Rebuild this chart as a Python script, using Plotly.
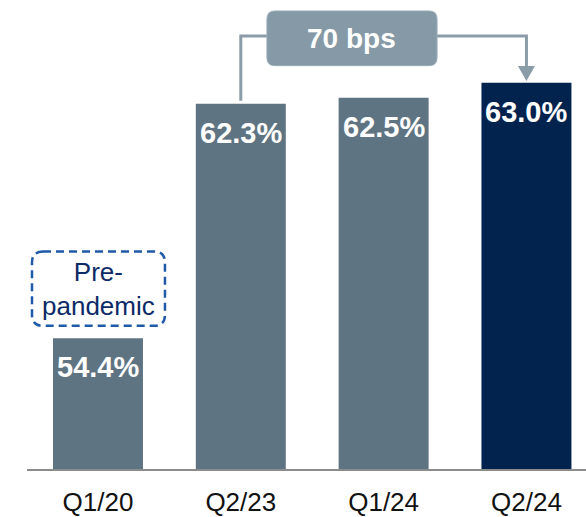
import plotly.graph_objects as go

# Data
quarters = ["Q1/20", "Q2/23", "Q1/24", "Q2/24"]
ratios = [54.4, 62.3, 62.5, 63.0]
bar_colors = ["#5F7482", "#5F7482", "#5F7482", "#03234F"]
change_label = "70 bps"
note_label = "Pre-<br>pandemic"

Y_MIN, Y_MAX = 50.0, 65.79
FONT = "Liberation Sans, Arial, sans-serif"
BRACKET = "#8A9CA8"

fig = go.Figure(
    go.Bar(
        x=quarters,
        y=ratios,
        marker=dict(color=bar_colors, line=dict(width=0)),
        width=0.63,
        textposition="none",
        hoverinfo="skip",
    )
)

# Value labels inside the top of each bar
for q, v in zip(quarters, ratios):
    fig.add_annotation(
        x=q, y=v, text=f"<b>{v:.1f}%</b>", showarrow=False,
        yanchor="middle", yshift=-29,
        font=dict(family=FONT, size=29, color="white"),
    )


def rounded_rect(x0, x1, y0, y1, rx, ry):
    return (
        f"M {x0 + rx},{y1} L {x1 - rx},{y1} Q {x1},{y1} {x1},{y1 - ry} "
        f"L {x1},{y0 + ry} Q {x1},{y0} {x1 - rx},{y0} "
        f"L {x0 + rx},{y0} Q {x0},{y0} {x0},{y0 + ry} "
        f"L {x0},{y1 - ry} Q {x0},{y1} {x0 + rx},{y1} Z"
    )


# Category positions on the x axis
xi = {q: i for i, q in enumerate(quarters)}
px_x = 1 / 142.8   # data units per pixel along x
px_y = 1 / 29.9    # data units per pixel along y

# Change bracket from Q2/23 to Q2/24
box_x0, box_x1 = 1.183, 2.374
box_y0, box_y1 = 63.58, 65.42
mid_y = 64.58
start = ratios[1] + 3 * px_y
end = ratios[3] + 2 * px_y
head_h = 15 * px_y
head_w = 8.5 * px_x
x_from, x_to = xi["Q2/23"], xi["Q2/24"]

fig.add_shape(type="path",
              path=f"M {box_x0},{mid_y} L {x_from},{mid_y} L {x_from},{start}",
              line=dict(color=BRACKET, width=3), layer="above")
fig.add_shape(type="path",
              path=f"M {box_x1},{mid_y} L {x_to},{mid_y} L {x_to},{end + head_h}",
              line=dict(color=BRACKET, width=3), layer="above")
fig.add_shape(type="path",
              path=(f"M {x_to - head_w},{end + head_h} L {x_to + head_w},{end + head_h} "
                    f"L {x_to},{end} Z"),
              fillcolor=BRACKET, line=dict(color=BRACKET, width=0), layer="above")
fig.add_shape(type="path",
              path=rounded_rect(box_x0, box_x1, box_y0, box_y1, 8 * px_x, 8 * px_y),
              fillcolor="#8599A6", line=dict(color="#9AABB6", width=1), layer="above")
fig.add_annotation(x=(box_x0 + box_x1) / 2, y=(box_y0 + box_y1) / 2,
                   text=f"<b>{change_label}</b>", showarrow=False,
                   font=dict(family=FONT, size=28, color="white"))

# Dashed note above the first bar
n_x0, n_x1 = -0.462, 0.469
n_y0, n_y1 = 54.82, 57.32
fig.add_shape(type="path",
              path=rounded_rect(n_x0, n_x1, n_y0, n_y1, 11 * px_x, 11 * px_y),
              fillcolor="rgba(0,0,0,0)",
              line=dict(color="#1E5AA8", width=2.5, dash="8px,5px"), layer="above")
fig.add_annotation(x=(n_x0 + n_x1) / 2, y=(n_y0 + n_y1) / 2,
                   text=note_label, showarrow=False,
                   font=dict(family=FONT, size=26, color="#0C2A66"))

fig.update_layout(
    width=586, height=517,
    margin=dict(l=27, r=0, t=0, b=45),
    paper_bgcolor="white", plot_bgcolor="white",
    showlegend=False,
    xaxis=dict(
        range=[-0.497, 3.417],
        showgrid=False, zeroline=False,
        showline=True, linecolor="#8C8C8C", linewidth=2,
        ticks="", tickfont=dict(family=FONT, size=26, color="#111111"),
        ticklabelstandoff=9,
        fixedrange=True,
    ),
    yaxis=dict(
        range=[Y_MIN, Y_MAX], visible=False, fixedrange=True,
    ),
)

fig.write_html("out.html")
